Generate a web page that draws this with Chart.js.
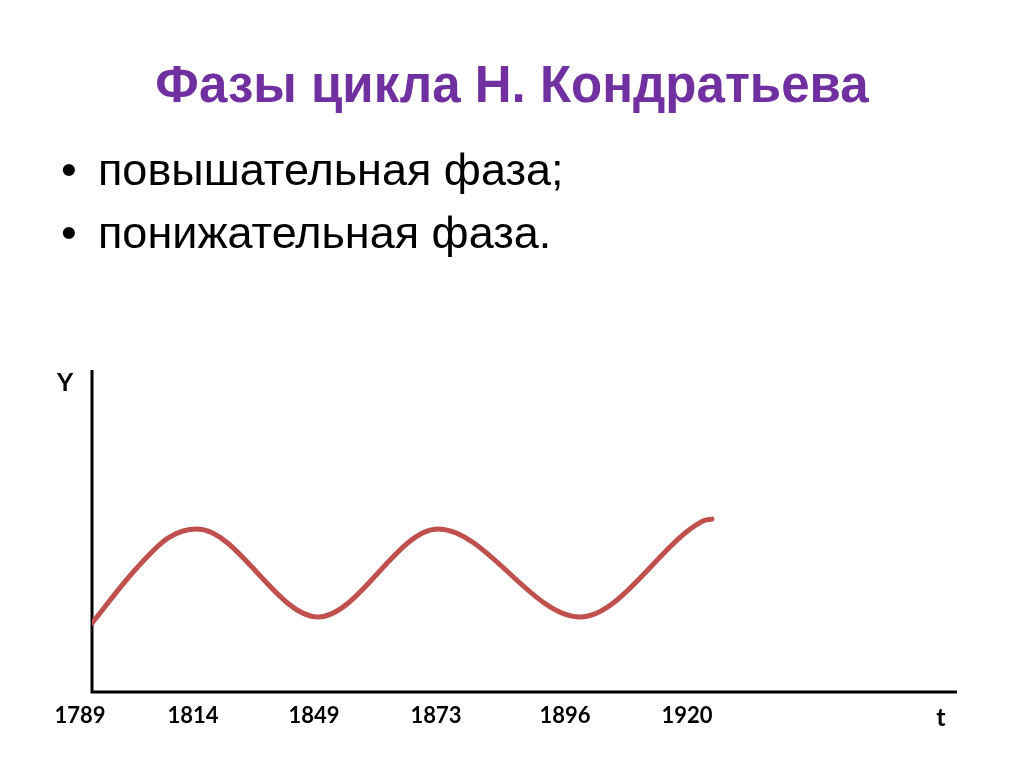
<!DOCTYPE html>
<html lang="ru">
<head>
<meta charset="utf-8">
<title>Фазы цикла Н. Кондратьева</title>
<script src="https://cdn.jsdelivr.net/npm/chart.js@4/dist/chart.umd.min.js"></script>
<style>
    html, body { margin: 0; padding: 0; background: #fff; }
    body { width: 1024px; height: 767px; position: relative; overflow: hidden; }
    #chart { position: absolute; left: 0; top: 0; }
    .title {
        position: absolute; left: 0; width: 1024px; top: 55px;
        text-align: center; line-height: 1;
        font: bold 51px "Liberation Sans", Arial, sans-serif; color: #7030A0;
    }
    .item {
        position: absolute; left: 98px; line-height: 1;
        font: 45px "Liberation Sans", Arial, sans-serif; color: #000;
    }
    .item::before { content: "•"; position: absolute; left: -37px; }
</style>
</head>
<body>
<canvas id="chart" width="1024" height="767"></canvas>
<div class="title">Фазы цикла Н. Кондратьева</div>
<div class="item" style="top:144px">повышательная фаза;</div>
<div class="item" style="top:207px">понижательная фаза.</div>

<script>
// годы под осью и их место на оси t
const tickYears = ['1789', '1814', '1849', '1873', '1896', '1920'];
const tickPos = [-0.12, 1.01, 2.22, 3.44, 4.73, 5.95];

// точки кривой (t - условная шкала, Y - условный уровень)
const curveT = [0, 0.43, 0.76, 1.05, 2.26, 3.46, 4.88, 6.11, 6.20];
const curveY = [2.14, 3.79, 4.78, 5.06, 2.33, 5.06, 2.33, 5.31, 5.37];

const tMax = 8.65;
const yMax = 10;

const points = curveT.map((t, i) => ({ x: t, y: curveY[i] }));

// оси и подписи рисуем сами
const axesPlugin = {
    id: 'axes',
    beforeDatasetsDraw(chart) {
        const ctx = chart.ctx;
        const xs = chart.scales.x;
        const ys = chart.scales.y;
        const x0 = xs.getPixelForValue(0);
        const y0 = ys.getPixelForValue(0);

        ctx.save();
        ctx.strokeStyle = '#000';
        ctx.lineWidth = 3;
        ctx.beginPath();
        ctx.moveTo(x0, ys.getPixelForValue(yMax));
        ctx.lineTo(x0, y0);
        ctx.lineTo(xs.getPixelForValue(tMax), y0);
        ctx.stroke();

        ctx.fillStyle = '#000';
        ctx.font = 'bold 22px Lato, "Open Sans", sans-serif';
        ctx.textAlign = 'center';
        ctx.textBaseline = 'middle';
        tickYears.forEach((label, i) => {
            ctx.fillText(label, xs.getPixelForValue(tickPos[i]), y0 + 24);
        });

        // подписи осей
        ctx.font = 'bold 25px Lato, "Open Sans", sans-serif';
        ctx.fillText('Y', x0 - 27, ys.getPixelForValue(yMax) + 13);
        ctx.fillText('t', xs.getPixelForValue(tMax) - 16, y0 + 26);
        ctx.restore();
    }
};

new Chart(document.getElementById('chart'), {
    type: 'line',
    data: {
        datasets: [{
            data: points,
            borderColor: '#C0504D',
            borderWidth: 5,
            pointRadius: 0,
            fill: false,
            cubicInterpolationMode: 'monotone',
            borderCapStyle: 'round'
        }]
    },
    options: {
        responsive: false,
        animation: false,
        layout: { padding: { left: 92, right: 67, top: 370, bottom: 75 } },
        scales: {
            x: { type: 'linear', min: 0, max: tMax, display: false },
            y: { min: 0, max: yMax, display: false }
        },
        plugins: {
            legend: { display: false },
            tooltip: { enabled: false }
        }
    },
    plugins: [axesPlugin]
});
</script>
</body>
</html>
